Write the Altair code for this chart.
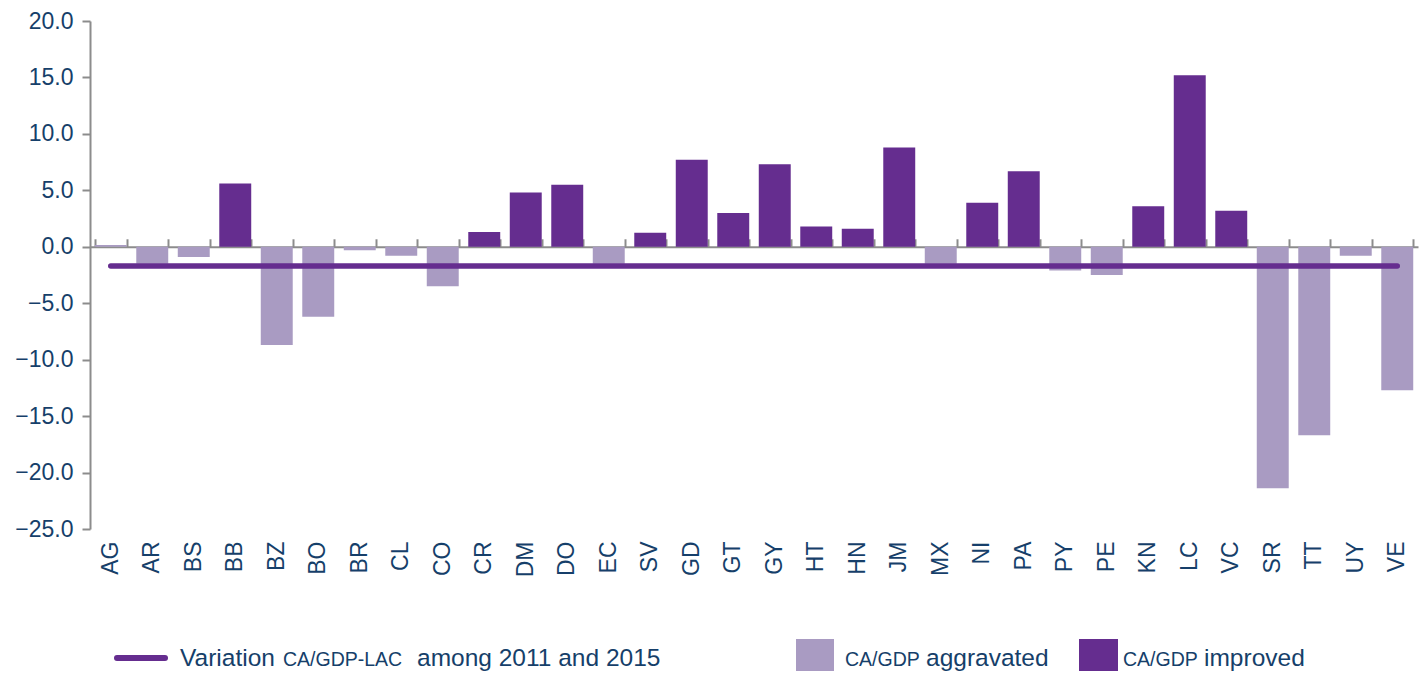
import altair as alt
import pandas as pd

# ---- data ----
countries = ["AG", "AR", "BS", "BB", "BZ", "BO", "BR", "CL", "CO", "CR", "DM", "DO",
             "EC", "SV", "GD", "GT", "GY", "HT", "HN", "JM", "MX", "NI", "PA", "PY",
             "PE", "KN", "LC", "VC", "SR", "TT", "UY", "VE"]
ca_gdp_change = [0.15, -1.5, -0.9, 5.6, -8.7, -6.2, -0.3, -0.8, -3.5, 1.3, 4.8, 5.5,
                 -1.5, 1.25, 7.7, 3.0, 7.3, 1.8, 1.6, 8.8, -1.5, 3.9, 6.7, -2.1,
                 -2.5, 3.6, 15.2, 3.2, -21.4, -16.7, -0.8, -12.7]
status = ["aggravated", "aggravated", "aggravated", "improved", "aggravated", "aggravated",
          "aggravated", "aggravated", "aggravated", "improved", "improved", "improved",
          "aggravated", "improved", "improved", "improved", "improved", "improved",
          "improved", "improved", "aggravated", "improved", "improved", "aggravated",
          "aggravated", "improved", "improved", "improved", "aggravated", "aggravated",
          "aggravated", "aggravated"]
lac_variation = [-1.7] * len(countries)
y_ticks = [-25, -20, -15, -10, -5, 0, 5, 10, 15, 20]

LIGHT = "#A99BC2"
DARK = "#652D8F"
TEXT = "#163F6A"
GRAY = "#8C8C8C"
FONT = "Liberation Sans"

W, H = 1328, 508
Y_DOMAIN = [-25, 20]
zero_from_top = H * (Y_DOMAIN[1] - 0) / (Y_DOMAIN[1] - Y_DOMAIN[0])

df = pd.DataFrame({"country": countries, "value": ca_gdp_change,
                   "status": status, "lac": lac_variation})

xscale = alt.Scale(paddingInner=0.23, paddingOuter=0.115)
yscale = alt.Scale(domain=Y_DOMAIN, nice=False)
yaxis = alt.Axis(values=y_ticks, format=".1f", grid=False,
                 labelFontSize=23, labelColor=TEXT, labelFont=FONT,
                 labelPadding=9, tickSize=8, tickWidth=2, tickColor=GRAY,
                 domainColor=GRAY, domainWidth=2)

bars = alt.Chart(df).mark_bar().encode(
    x=alt.X("country:N", sort=countries, scale=xscale, title=None,
            axis=alt.Axis(labelAngle=270, labelAlign="right", labelBaseline="middle",
                          labelFontSize=23, labelColor=TEXT, labelFont=FONT,
                          labelPadding=12, ticks=False, domain=False)),
    y=alt.Y("value:Q", scale=yscale, title=None, axis=yaxis),
    color=alt.Color("status:N", scale=alt.Scale(domain=["aggravated", "improved"],
                                                range=[LIGHT, DARK]), legend=None),
)

line = alt.Chart(df).mark_line(color=DARK, strokeWidth=5.5, strokeCap="round").encode(
    x=alt.X("country:N", sort=countries, scale=xscale, title=None,
            axis=alt.Axis(labels=False, domain=True, ticks=True, tickBand="extent",
                          tickSize=8, tickWidth=2, tickColor=GRAY,
                          domainColor=GRAY, domainWidth=2,
                          offset=-zero_from_top)),
    y=alt.Y("lac:Q", scale=yscale, title=None, axis=yaxis),
)

one = pd.DataFrame({"k": [0]})

def txt(s, x, size):
    return alt.Chart(one).mark_text(align="left", baseline="alphabetic",
                                    fontSize=size, font=FONT, color=TEXT).encode(
        x=alt.value(x), y=alt.value(645), text=alt.value(s))

legend_line = alt.Chart(one).mark_rule(color=DARK, strokeWidth=6, strokeCap="round").encode(
    x=alt.value(27), x2=alt.value(75), y=alt.value(637))
sq_light = alt.Chart(one).mark_rect(color=LIGHT).encode(
    x=alt.value(706), x2=alt.value(744), y=alt.value(618), y2=alt.value(656))
sq_dark = alt.Chart(one).mark_rect(color=DARK).encode(
    x=alt.value(989), x2=alt.value(1028), y=alt.value(618), y2=alt.value(656))

legend = [
    legend_line, sq_light, sq_dark,
    txt("Variation", 90, 24.5), txt("CA/GDP-LAC", 193, 19.5),
    txt("among 2011 and 2015", 327, 24.5),
    txt("CA/GDP", 755, 19.5), txt("aggravated", 836, 24.5),
    txt("CA/GDP", 1033, 19.5), txt("improved", 1114, 24.5),
]

main = alt.layer(bars, line).resolve_axis(x="independent")

chart = alt.layer(main, *legend).properties(
    width=W, height=H,
    autosize=alt.AutoSizeParams(type="none"),
    padding={"left": 82, "top": 13, "right": 2, "bottom": 142},
    background="white",
).configure_view(stroke=None)

chart.save("out.html", embed_options={"renderer": "svg", "actions": False})
